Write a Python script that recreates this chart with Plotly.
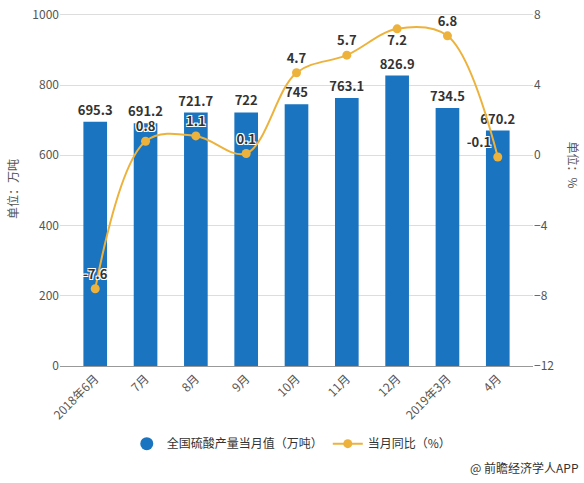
import plotly.graph_objects as go

categories = ["2018年6月", "7月", "8月", "9月", "10月", "11月", "12月", "2019年3月", "4月"]
output_values = [695.3, 691.2, 721.7, 722, 745, 763.1, 826.9, 734.5, 670.2]
yoy_values = [-7.6, 0.8, 1.1, 0.1, 4.7, 5.7, 7.2, 6.8, -0.1]
bar_name = "全国硫酸产量当月值（万吨）"
line_name = "当月同比（%）"

BLUE = "#1a74c0"
ORANGE = "#edb23c"
FONT = "Noto Sans CJK SC"

line_text_pos = ["top center"] * len(yoy_values)
line_text_pos[6] = "bottom center"
line_text_pos[8] = "top left"

fig = go.Figure()

fig.add_trace(go.Bar(
    x=categories, y=output_values, name=bar_name,
    marker=dict(color=BLUE, line=dict(width=0)),
    text=[f"{v:g}" for v in output_values], textposition="outside",
    constraintext="none",
    textfont=dict(size=13, color="#333333", family=FONT, weight="bold"),
    cliponaxis=False, showlegend=False,
))
# legend entry with circle symbol
fig.add_trace(go.Scatter(
    x=[None], y=[None], mode="markers", name=bar_name,
    marker=dict(color=BLUE, size=13, symbol="circle"),
))
fig.add_trace(go.Scatter(
    x=categories, y=yoy_values, name=line_name, yaxis="y2",
    mode="lines+markers+text",
    line=dict(color=ORANGE, width=2, shape="spline", smoothing=1),
    marker=dict(color=ORANGE, size=9),
    text=[f"{v:g}" for v in yoy_values], textposition=line_text_pos,
    textfont=dict(size=13, color="#333333", family=FONT, weight="bold",
                  shadow="-1px -1px 0 #fff, 1px -1px 0 #fff, -1px 1px 0 #fff, 1px 1px 0 #fff"),
    cliponaxis=False,
))

fig.update_layout(
    width=584, height=483,
    margin=dict(l=60, r=51, t=5, b=117),
    paper_bgcolor="white", plot_bgcolor="white",
    font=dict(family=FONT, size=12, color="#555555"),
    bargap=0.53,
    xaxis=dict(
        type="category", range=[-0.7, 8.7], tickangle=-45,
        showgrid=False, showline=True, linecolor="#999999", linewidth=1,
        ticks="", tickfont=dict(size=12, color="#555555"),
    ),
    yaxis=dict(
        range=[0, 1005], tickvals=[0, 200, 400, 600, 800, 1000],
        showgrid=True, gridcolor="#dddddd", ticklabeloverflow="allow",
        zeroline=False, showline=False, ticks="",
        tickfont=dict(size=12, color="#555555"),
    ),
    yaxis2=dict(
        overlaying="y", side="right", range=[-12, 8.1],
        tickvals=[-12, -8, -4, 0, 4, 8], ticklabeloverflow="allow",
        showgrid=False, zeroline=False, showline=False, ticks="",
        tickfont=dict(size=12, color="#555555"),
    ),
    legend=dict(
        orientation="h", x=0.49, xanchor="center", y=-0.22, yanchor="middle",
        font=dict(size=12, color="#333333"), itemwidth=30,
    ),
    showlegend=True,
    annotations=[
        dict(text="单位：万吨", xref="paper", yref="paper",
             x=(12 - 60) / 473, y=(366 - 185) / 361, showarrow=False,
             xanchor="center", yanchor="middle",
             textangle=-90, font=dict(size=12, color="#555555")),
        dict(text="单位：%", xref="paper", yref="paper",
             x=(573 - 60) / 473, y=(366 - 160) / 361, showarrow=False,
             xanchor="center", yanchor="middle",
             textangle=90, font=dict(size=12, color="#555555")),
        dict(text="@ 前瞻经济学人APP", xref="paper", yref="paper",
             x=(581 - 60) / 473, y=(366 - 470) / 361, xanchor="right",
             yanchor="middle", showarrow=False,
             font=dict(size=12, color="#333333")),
    ],
)

fig.write_html("out.html", config={"displayModeBar": False},
               post_script="document.body.style.margin='0';")
